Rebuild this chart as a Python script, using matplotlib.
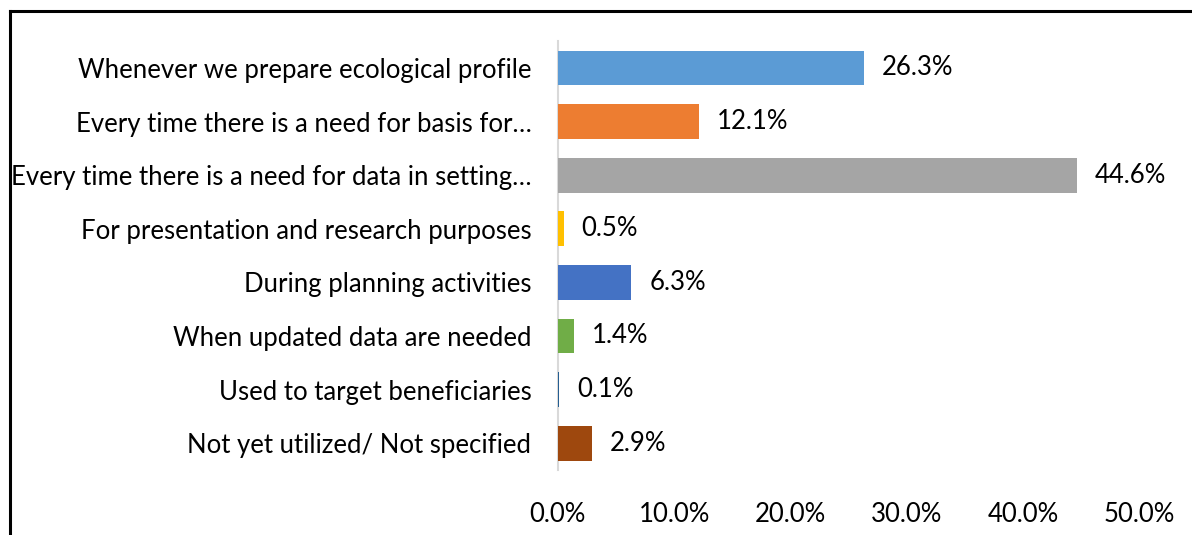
import matplotlib.pyplot as plt
from matplotlib.lines import Line2D

categories = [
    "Whenever we prepare ecological profile",
    "Every time there is a need for basis for\u2026",
    "Every time there is a need for data in setting\u2026",
    "For presentation and research purposes",
    "During planning activities",
    "When updated data are needed",
    "Used to target beneficiaries",
    "Not yet utilized/ Not specified",
]
values = [26.3, 12.1, 44.6, 0.5, 6.3, 1.4, 0.1, 2.9]
colors = ["#5B9BD5", "#ED7D31", "#A5A5A5", "#FFC000",
          "#4472C4", "#70AD47", "#255E91", "#9E480E"]
xticks = [0, 10, 20, 30, 40, 50]

plt.rcParams["font.family"] = ["Lato", "DejaVu Sans"]
fs = 18.5

fig = plt.figure(figsize=(11.92, 5.35), dpi=100)
ax = fig.add_axes([0.468, 0.1215, 0.488, 0.8015])

y = list(range(len(categories)))
bars = ax.barh(y, values, height=0.65, color=colors, zorder=3)
ax.bar_label(bars, labels=[f"{v:.1f}%" for v in values], padding=13,
             fontsize=fs, color="#000000")

ax.set_ylim(len(categories) - 0.5, -0.5)
ax.set_xlim(0, 50)
ax.set_yticks(y)
ax.set_yticklabels(categories, fontsize=fs)
ax.set_xticks(xticks)
ax.set_xticklabels([f"{t:.1f}%" for t in xticks], fontsize=fs)
ax.tick_params(length=0, pad=19, axis="y")
ax.tick_params(length=0, pad=23, axis="x")

for side in ["top", "right", "bottom"]:
    ax.spines[side].set_visible(False)
ax.spines["left"].set_color("#D9D9D9")
ax.spines["left"].set_linewidth(1.5)
ax.spines["left"].set_zorder(2)

# outer frame (only left and top edges visible in crop)
fig.add_artist(Line2D([0.0084, 0.0084], [0, 0.979], color="black",
                      linewidth=2.2, transform=fig.transFigure))
fig.add_artist(Line2D([0.0084, 1], [0.979, 0.979], color="black",
                      linewidth=2.2, transform=fig.transFigure))

fig.savefig("out.png", dpi=100)
